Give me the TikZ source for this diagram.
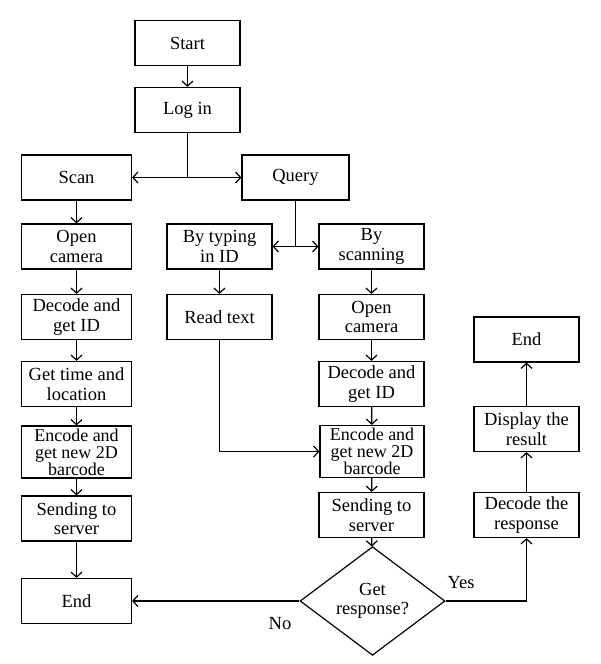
\documentclass[tikz,border=0pt]{standalone}
\usepackage{fontspec}
\setmainfont{Liberation Serif}
\usetikzlibrary{arrows.meta,shapes.geometric}
\begin{document}
\begin{tikzpicture}[x=1pt,y=-1pt,
  line width=1.2pt,
  >={Straight Barb[length=5pt,width=11pt]},
  every node/.style={font=\fontsize{18.5}{19.5}\selectfont},
  box/.style={draw,rectangle,minimum width=110pt,minimum height=45pt,inner sep=0pt,align=center},
  bigbox/.style={box,minimum height=52pt,font=\fontsize{18}{17}\selectfont},
  dec/.style={draw,diamond,minimum width=145pt,minimum height=83pt,inner sep=0pt,align=center},
  lbl/.style={inner sep=0pt}
]
\useasboundingbox (0,0) rectangle (600,664);
\fill[white] (0,0) rectangle (600,664);
% main column
\node[box,minimum width=105pt] (start) at (187.5,43) {Start};
\node[box,minimum width=105pt] (login) at (187.5,110) {Log in};
\node[box] (scan) at (76.5,177.5) {Scan};
\node[box,minimum width=107pt] (query) at (295.5,177.5) {Query};
% left column
\node[box] (open1) at (76.5,246.5) {Open\\camera};
\node[box] (dec1) at (76.5,317) {Decode and\\get ID};
\node[box] (time) at (76.5,384) {Get time and\\location};
\node[bigbox] (enc1) at (76.5,452) {Encode and\\get new 2D\\barcode};
\node[box] (send1) at (76.5,518.5) {Sending to\\server};
\node[box] (end1) at (76.5,601) {End};
% middle column
\node[box,minimum width=105pt] (type) at (219.5,246.5) {By typing\\in ID};
\node[box,minimum width=105pt] (read) at (219.5,317) {Read text};
% right column
\node[box,minimum width=105pt] (byscan) at (371.5,246.5) {By\\scanning};
\node[box,minimum width=105pt] (open2) at (371.5,317) {Open\\camera};
\node[box,minimum width=105pt] (dec2) at (371.5,384) {Decode and\\get ID};
\node[bigbox,minimum width=104pt] (enc2) at (372,451.5) {Encode and\\get new 2D\\barcode};
\node[box,minimum width=105pt] (send2) at (371.5,515) {Sending to\\server};
\node[dec] (resp) at (372.5,601) {Get\\response?};
% far right column
\node[box,minimum width=105pt] (decr) at (526.5,515) {Decode the\\response};
\node[box,minimum width=105pt] (disp) at (526.5,429) {Display the\\result};
\node[box,minimum width=105pt] (end2) at (526.5,339.5) {End};
% junctions
\coordinate (j1) at (187.5,177.5);
\coordinate (j2) at (295.5,246.5);
% connectors
\draw[->] (start) -- (login);
\draw (login) -- (j1);
\draw[->] (j1) -- (scan);
\draw[->] (j1) -- (query);
\draw (query) -- (j2);
\draw[->] (j2) -- (type);
\draw[->] (j2) -- (byscan);
\draw[->] (scan) -- (open1);
\draw[->] (open1) -- (dec1);
\draw[->] (dec1) -- (time);
\draw[->] (time) -- (enc1);
\draw[->] (enc1) -- (send1);
\draw[->] (send1) -- (end1);
\draw[->] (type) -- (read);
\draw[->] (read) |- (enc2);
\draw[->] (byscan) -- (open2);
\draw[->] (open2) -- (dec2);
\draw[->] (dec2) -- (enc2);
\draw[->] (enc2) -- (send2);
\draw[->] (send2) -- (resp);
\draw[->] (resp.west) -- (end1.east);
\draw[->] (resp.east) -| (decr.south);
\draw[->] (decr) -- (disp);
\draw[->] (disp) -- (end2);
% labels
\node[lbl] (no) at (280,624) {No};
\node[lbl] (yes) at (461,583) {Yes};
\end{tikzpicture}
\end{document}
